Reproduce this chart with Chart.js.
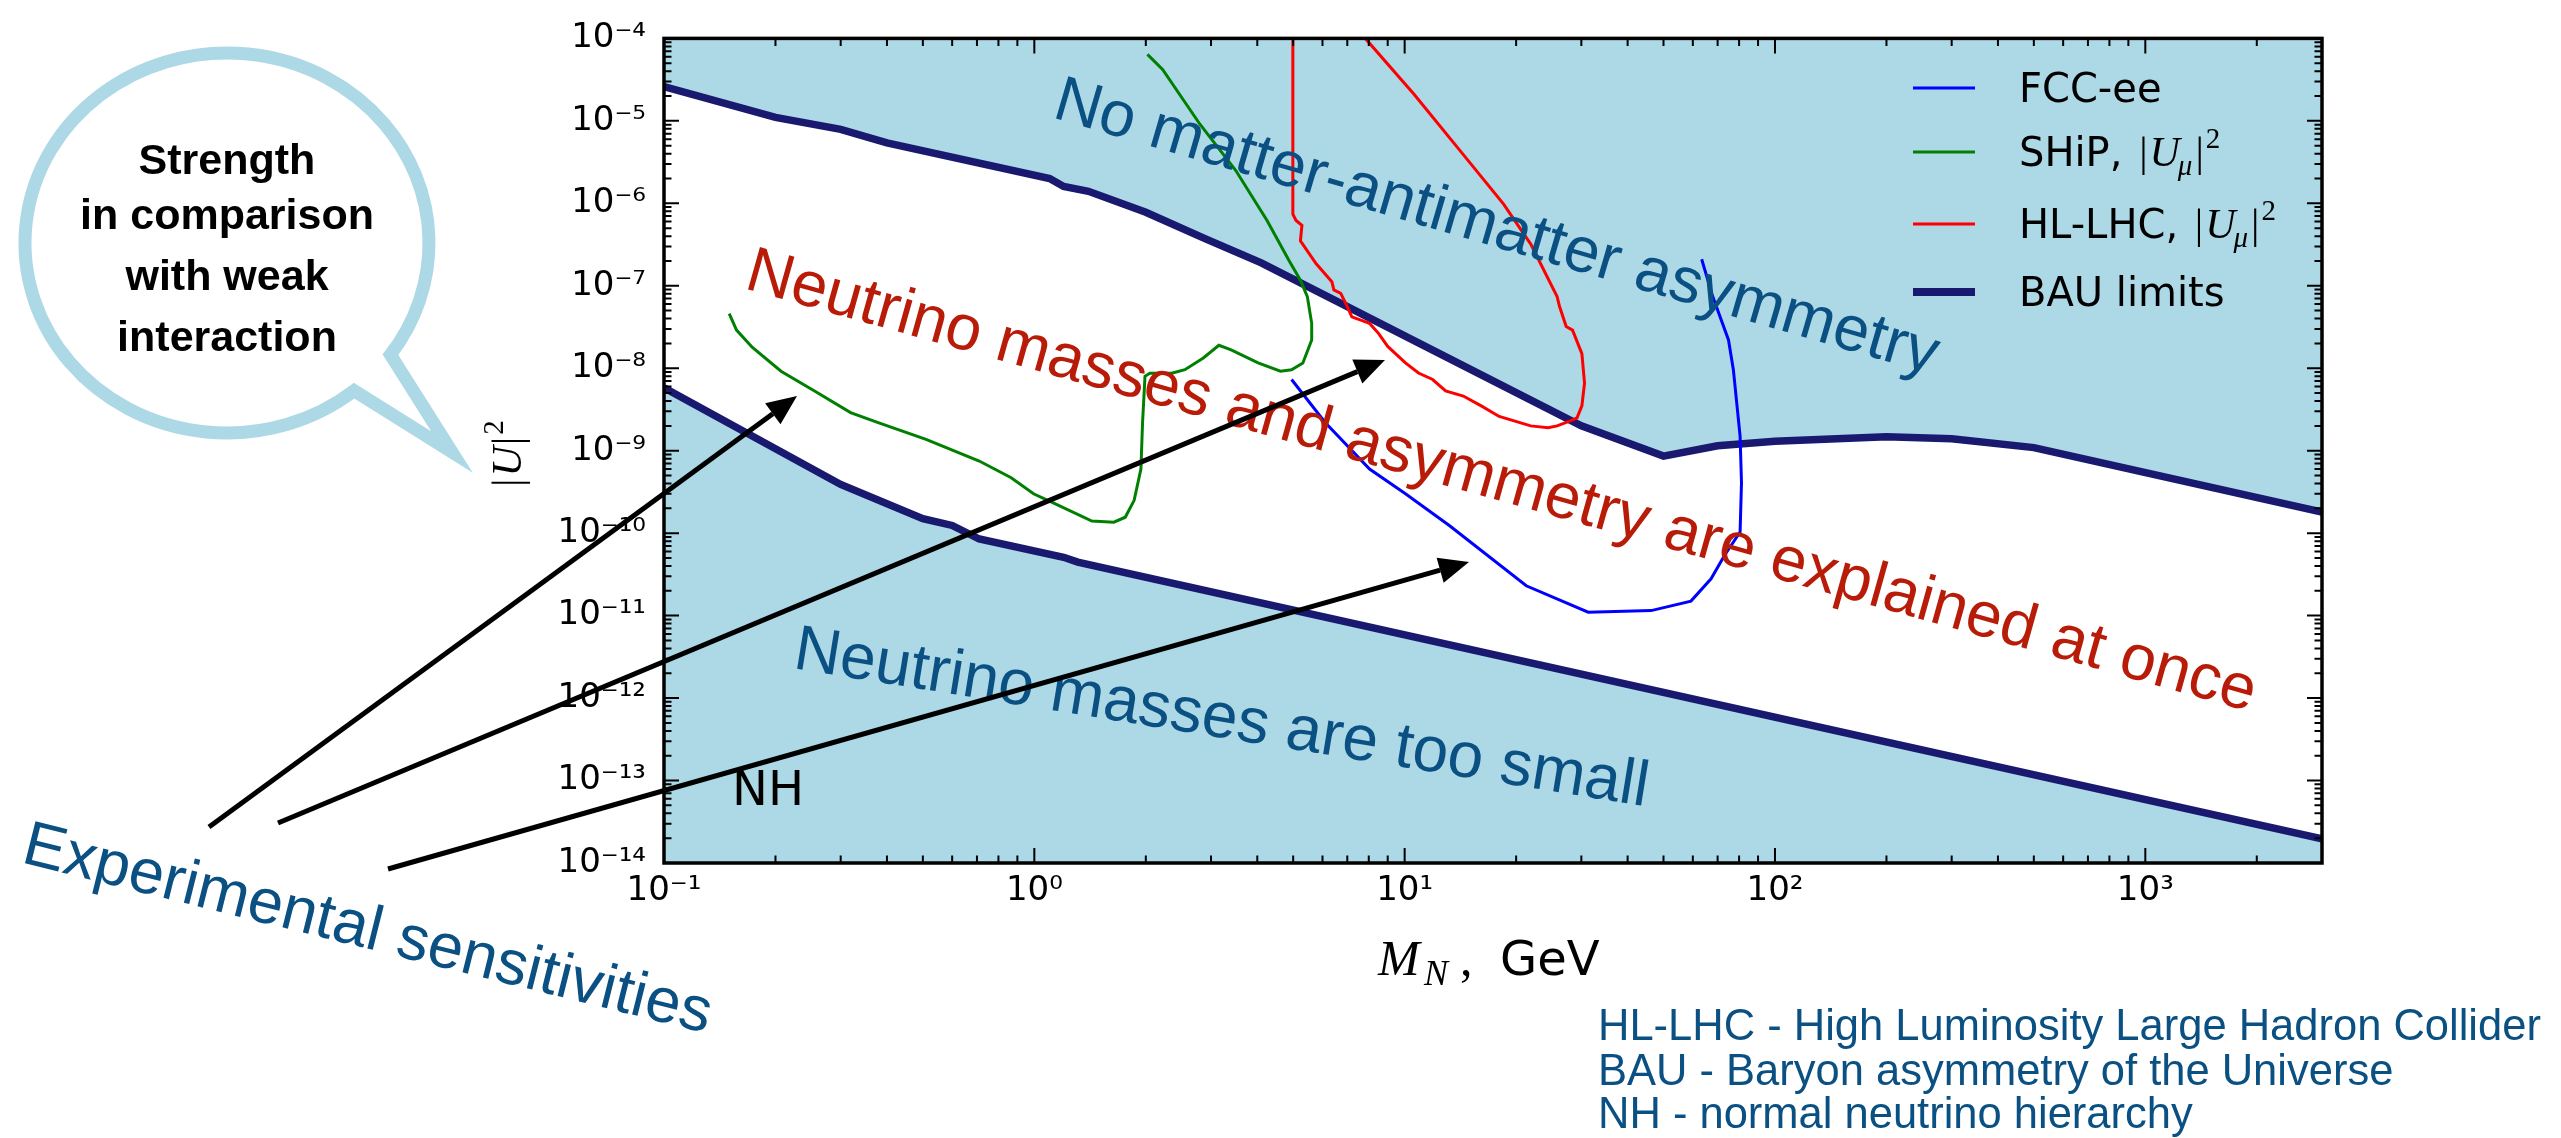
<!DOCTYPE html>
<html>
<head>
<meta charset="utf-8">
<script src="https://cdn.jsdelivr.net/npm/chart.js@4.4.1/dist/chart.umd.min.js"></script>
<style>
  html, body { margin: 0; padding: 0; background: #fff; }
  canvas { display: block; }
</style>
</head>
<body>
<canvas id="chart" width="2561" height="1138"></canvas>
<script>
// Axis ticks
const xTickValues = [0.1, 1, 10, 100, 1000];
const xTickLabels = ['10⁻¹', '10⁰', '10¹', '10²', '10³'];
const yTickValues = [1e-14, 1e-13, 1e-12, 1e-11, 1e-10, 1e-9, 1e-8, 1e-7, 1e-6, 1e-5, 1e-4];
const yTickLabels = ['10⁻¹⁴', '10⁻¹³', '10⁻¹²', '10⁻¹¹', '10⁻¹⁰', '10⁻⁹', '10⁻⁸', '10⁻⁷', '10⁻⁶', '10⁻⁵', '10⁻⁴'];

// Series names (legend)
const seriesNames = ['FCC-ee', 'SHiP,', 'HL-LHC,', 'BAU limits'];
const seriesMath = [false, true, true, false];

// FCC-ee sensitivity (M_N in GeV, |U|^2)
const fccMass = [4.95, 6.1, 8.04, 10.05, 13.2, 21.3, 31.3, 46.3, 59.3, 67.2, 73.1, 80.5, 81.2, 80.5, 77.2, 74.9, 67.9, 63.4];
const fccU2 = [7.3e-9, 2.2e-9, 6.0e-10, 3.0e-10, 1.24e-10, 2.3e-11, 1.1e-11, 1.15e-11, 1.5e-11, 2.8e-11, 5.4e-11, 1.03e-10, 4.1e-10, 1.5e-9, 9.6e-9, 2.2e-8, 7.4e-8, 2.1e-7];

// SHiP sensitivity
const shipMass = [0.15, 0.157, 0.173, 0.207, 0.255, 0.319, 0.377, 0.51, 0.71, 0.866, 0.995, 1.11, 1.43, 1.64, 1.76, 1.86, 1.94, 1.96, 1.99, 2.05, 2.35, 2.55, 2.86, 3.15, 3.4, 4.02, 4.62, 4.95, 5.31, 5.61, 5.61, 5.46, 5.23, 4.88, 4.25, 3.5, 2.8, 2.22, 2.02];
const shipU2 = [4.6e-8, 2.9e-8, 1.8e-8, 9.2e-9, 5.3e-9, 2.9e-9, 2.2e-9, 1.37e-9, 7.5e-10, 4.7e-10, 3.0e-10, 2.4e-10, 1.4e-10, 1.36e-10, 1.56e-10, 2.5e-10, 6.0e-10, 2.2e-9, 8.0e-9, 8.7e-9, 8.7e-9, 9.6e-9, 1.33e-8, 1.9e-8, 1.67e-8, 1.16e-8, 9.2e-9, 9.6e-9, 1.16e-8, 2.2e-8, 3.5e-8, 7.4e-8, 1.17e-7, 2.0e-7, 6.2e-7, 2.5e-6, 9.1e-6, 4.2e-5, 6.4e-5];

// HL-LHC sensitivity
const lhcMass = [4.99, 4.99, 5.09, 5.28, 5.23, 5.77, 6.36, 6.44, 6.72, 7.0, 7.2, 8.04, 8.5, 9.0, 10.05, 10.9, 11.9, 12.9, 14.4, 16.1, 18.0, 21.9, 24.4, 25.8, 28.0, 29.2, 30.1, 30.6, 30.1, 28.4, 27.3, 26.2, 25.8, 21.9, 18.5, 14.4, 10.6, 7.83];
const lhcU2 = [1e-4, 7.4e-7, 6.2e-7, 5.4e-7, 3.5e-7, 1.85e-7, 1.12e-7, 8.9e-8, 8.1e-8, 5.6e-8, 4.2e-8, 3.5e-8, 2.65e-8, 1.84e-8, 1.16e-8, 8.75e-9, 7.3e-9, 5.3e-9, 4.6e-9, 3.5e-9, 2.6e-9, 2.0e-9, 1.9e-9, 2.0e-9, 2.3e-9, 2.5e-9, 3.5e-9, 6.6e-9, 1.5e-8, 2.9e-8, 3.2e-8, 5.6e-8, 7.4e-8, 3.2e-7, 9.8e-7, 3.9e-6, 2.1e-5, 1e-4];

// BAU limits, upper and lower
const bauUpperMass = [0.1, 0.2, 0.3, 0.4, 1.1, 1.2, 1.4, 2.0, 2.9, 4.1, 7.0, 30, 50, 70, 100, 200, 300, 500, 3000];
const bauUpperU2 = [2.6e-5, 1.1e-5, 7.9e-6, 5.4e-6, 2.0e-6, 1.6e-6, 1.4e-6, 7.8e-7, 3.7e-7, 1.9e-7, 5.6e-8, 2.0e-9, 8.6e-10, 1.15e-9, 1.3e-9, 1.48e-9, 1.4e-9, 1.09e-9, 1.8e-10];
const bauLowerMass = [0.1, 0.3, 0.5, 0.6, 0.71, 1.2, 1.31, 3000];
const bauLowerU2 = [5.8e-9, 3.9e-10, 1.5e-10, 1.24e-10, 8.5e-11, 5.1e-11, 4.45e-11, 1.97e-14];

const fillBlue = '#add8e6';
const bauNavy = '#191970';
const textBlue = '#0a5082';
const textRed = '#b81c08';
const sansFont = '"Liberation Sans", Arial, Helvetica, sans-serif';
const serifFont = '"Liberation Serif", "DejaVu Serif", serif';

const toPoints = (xs, ys) => xs.map((x, i) => ({ x: x, y: ys[i] }));

function lineSet(label, xs, ys, color, width, fill) {
    return {
        label: label,
        data: toPoints(xs, ys),
        showLine: true,
        borderColor: color,
        backgroundColor: fill ? fillBlue : color,
        borderWidth: width,
        pointRadius: 0,
        pointHoverRadius: 0,
        tension: 0,
        fill: fill || false
    };
}

// |U_mu|^2 style math, drawn left to right from (x, y) baseline
function drawAbsU(ctx, x, y, size, sub) {
    const small = Math.round(size * 0.7);
    ctx.font = `${size}px ${serifFont}`;
    ctx.fillText('|', x, y);
    x += ctx.measureText('|').width + 2;
    ctx.font = `italic ${size}px ${serifFont}`;
    ctx.fillText('U', x, y);
    x += ctx.measureText('U').width - 2;
    if (sub) {
        ctx.font = `italic ${small}px ${serifFont}`;
        ctx.fillText(sub, x, y + size * 0.22);
        x += ctx.measureText(sub).width + 3;
    } else {
        x += 3;
    }
    ctx.font = `${size}px ${serifFont}`;
    ctx.fillText('|', x, y);
    x += ctx.measureText('|').width + 2;
    ctx.font = `${small}px ${serifFont}`;
    ctx.fillText('2', x, y - size * 0.42);
}

function rotatedText(ctx, text, x, y, deg, size, color) {
    ctx.save();
    ctx.translate(x, y);
    ctx.rotate(deg * Math.PI / 180);
    ctx.font = `${size}px ${sansFont}`;
    ctx.fillStyle = color;
    ctx.textBaseline = 'alphabetic';
    ctx.textAlign = 'left';
    ctx.fillText(text, 0, 0);
    ctx.restore();
}

function arrow(ctx, x1, y1, x2, y2) {
    const a = Math.atan2(y2 - y1, x2 - x1);
    const head = 30, half = 13;
    const bx = x2 - head * Math.cos(a), by = y2 - head * Math.sin(a);
    ctx.beginPath();
    ctx.moveTo(x1, y1);
    ctx.lineTo(bx, by);
    ctx.lineWidth = 5;
    ctx.strokeStyle = '#000';
    ctx.stroke();
    ctx.beginPath();
    ctx.moveTo(x2, y2);
    ctx.lineTo(bx - half * Math.sin(a), by + half * Math.cos(a));
    ctx.lineTo(bx + half * Math.sin(a), by - half * Math.cos(a));
    ctx.closePath();
    ctx.fillStyle = '#000';
    ctx.fill();
}

// inward ticks, frame and legend
const framePlugin = {
    id: 'frame',
    afterDatasetsDraw(chart) {
        const ctx = chart.ctx;
        const { left, right, top, bottom } = chart.chartArea;
        const xs = chart.scales.x, ys = chart.scales.y;
        ctx.save();
        ctx.strokeStyle = '#000';
        ctx.lineWidth = 2;
        ctx.beginPath();
        for (let d = -1; d <= 3; d++) {
            for (let m = 1; m <= 9; m++) {
                const v = m * Math.pow(10, d);
                if (v > xs.max * 1.0001) break;
                const px = xs.getPixelForValue(v);
                const len = m === 1 ? 15 : 7.5;
                ctx.moveTo(px, bottom); ctx.lineTo(px, bottom - len);
                ctx.moveTo(px, top); ctx.lineTo(px, top + len);
            }
        }
        for (let d = -14; d <= -4; d++) {
            for (let m = 1; m <= 9; m++) {
                const v = m * Math.pow(10, d);
                if (v > ys.max * 1.0001) break;
                const py = ys.getPixelForValue(v);
                const len = m === 1 ? 15 : 7.5;
                ctx.moveTo(left, py); ctx.lineTo(left + len, py);
                ctx.moveTo(right, py); ctx.lineTo(right - len, py);
            }
        }
        ctx.stroke();
        ctx.lineWidth = 3.5;
        ctx.strokeRect(left, top, right - left, bottom - top);

        // legend
        const baselines = [102, 166, 238, 306];
        ctx.textBaseline = 'alphabetic';
        ctx.textAlign = 'left';
        seriesNames.forEach((name, i) => {
            const ds = chart.data.datasets[i];
            const ly = baselines[i] - 14;
            ctx.beginPath();
            ctx.moveTo(1913, ly);
            ctx.lineTo(1975, ly);
            ctx.strokeStyle = ds.borderColor;
            ctx.lineWidth = i === 3 ? 8 : 3;
            ctx.stroke();
            ctx.fillStyle = '#000';
            ctx.font = '40px "DejaVu Sans", sans-serif';
            ctx.fillText(name, 2019, baselines[i]);
            if (seriesMath[i]) {
                const w = ctx.measureText(name + ' ').width;
                drawAbsU(ctx, 2019 + w + 4, baselines[i], 42, 'μ');
            }
        });
        ctx.restore();
    },
    afterDraw(chart) {
        const ctx = chart.ctx;
        ctx.save();

        // region labels
        rotatedText(ctx, 'No matter-antimatter asymmetry', 1051, 117, 16.3, 64, textBlue);
        rotatedText(ctx, 'Neutrino masses and asymmetry are explained at once', 743, 288, 15.7, 64, textRed);
        rotatedText(ctx, 'Neutrino masses are too small', 792, 668, 9.2, 64, textBlue);
        rotatedText(ctx, 'Experimental sensitivities', 20, 862, 14.0, 63, textBlue);

        ctx.fillStyle = '#000';
        ctx.font = '48px "DejaVu Sans", sans-serif';
        ctx.textAlign = 'left';
        ctx.textBaseline = 'alphabetic';
        ctx.fillText('NH', 732, 805);

        // arrows
        arrow(ctx, 209, 827, 797, 396);
        arrow(ctx, 278, 823, 1385, 360);
        arrow(ctx, 388, 869, 1469, 562);

        // speech bubble
        const rad = d => d * Math.PI / 180;
        ctx.beginPath();
        ctx.ellipse(227, 243, 202, 190, 0, rad(51), rad(396));
        ctx.lineTo(452, 452);
        ctx.closePath();
        ctx.lineWidth = 13;
        ctx.lineJoin = 'miter';
        ctx.strokeStyle = fillBlue;
        ctx.stroke();
        ctx.fillStyle = '#000';
        ctx.textAlign = 'center';
        ctx.font = `bold 43px ${sansFont}`;
        ctx.fillText('Strength', 227, 174);
        ctx.fillText('in comparison', 227, 229);
        ctx.fillText('with weak', 227, 290);
        ctx.fillText('interaction', 227, 351);

        // axis titles
        ctx.textAlign = 'left';
        ctx.save();
        ctx.translate(521, 487);
        ctx.rotate(-Math.PI / 2);
        drawAbsU(ctx, 0, 0, 42, null);
        ctx.restore();

        ctx.font = `italic 50px ${serifFont}`;
        ctx.fillText('M', 1378, 975);
        ctx.font = `italic 36px ${serifFont}`;
        ctx.fillText('N', 1424, 985);
        ctx.font = `50px ${serifFont}`;
        ctx.fillText(',', 1460, 975);
        ctx.font = '48px "DejaVu Sans", sans-serif';
        ctx.fillText('GeV', 1500, 975);

        // footnotes
        ctx.fillStyle = textBlue;
        ctx.font = `43.5px ${sansFont}`;
        ctx.fillText('HL-LHC - High Luminosity Large Hadron Collider', 1598, 1040);
        ctx.fillText('BAU - Baryon asymmetry of the Universe', 1598, 1085);
        ctx.fillText('NH - normal neutrino hierarchy', 1598, 1128);
        ctx.restore();
    }
};

Chart.defaults.font.family = '"DejaVu Sans", sans-serif';
Chart.defaults.color = '#000';

new Chart(document.getElementById('chart'), {
    type: 'scatter',
    data: {
        datasets: [
            lineSet(seriesNames[0], fccMass, fccU2, '#0000ff', 3),
            lineSet(seriesNames[1], shipMass, shipU2, '#008000', 3),
            lineSet(seriesNames[2], lhcMass, lhcU2, '#ff0000', 3),
            lineSet(seriesNames[3], bauUpperMass, bauUpperU2, bauNavy, 7.5, 'end'),
            lineSet('BAU lower', bauLowerMass, bauLowerU2, bauNavy, 7.5, 'start')
        ]
    },
    options: {
        responsive: false,
        devicePixelRatio: 1,
        animation: false,
        events: [],
        layout: { padding: { left: 544, right: 239, top: 33.5, bottom: 205 } },
        plugins: {
            legend: { display: false },
            tooltip: { enabled: false },
            filler: { drawTime: 'beforeDatasetsDraw' }
        },
        scales: {
            x: {
                type: 'logarithmic',
                min: 0.1,
                max: 3000,
                grid: { display: false, drawTicks: false },
                border: { display: false },
                afterBuildTicks: s => { s.ticks = xTickValues.map(v => ({ value: v })); },
                afterFit: s => { s.height = 70; },
                ticks: {
                    autoSkip: false,
                    maxRotation: 0,
                    padding: 8,
                    font: { size: 34 },
                    callback: v => xTickLabels[xTickValues.findIndex(t => Math.abs(Math.log10(t) - Math.log10(v)) < 1e-6)]
                }
            },
            y: {
                type: 'logarithmic',
                min: 1e-14,
                max: 1e-4,
                grid: { display: false, drawTicks: false },
                border: { display: false },
                afterBuildTicks: s => { s.ticks = yTickValues.map(v => ({ value: v })); },
                afterFit: s => { s.width = 120; },
                ticks: {
                    autoSkip: false,
                    padding: 18,
                    font: { size: 34 },
                    callback: v => yTickLabels[yTickValues.findIndex(t => Math.abs(Math.log10(t) - Math.log10(v)) < 1e-6)]
                }
            }
        }
    },
    plugins: [framePlugin]
});
</script>
</body>
</html>
